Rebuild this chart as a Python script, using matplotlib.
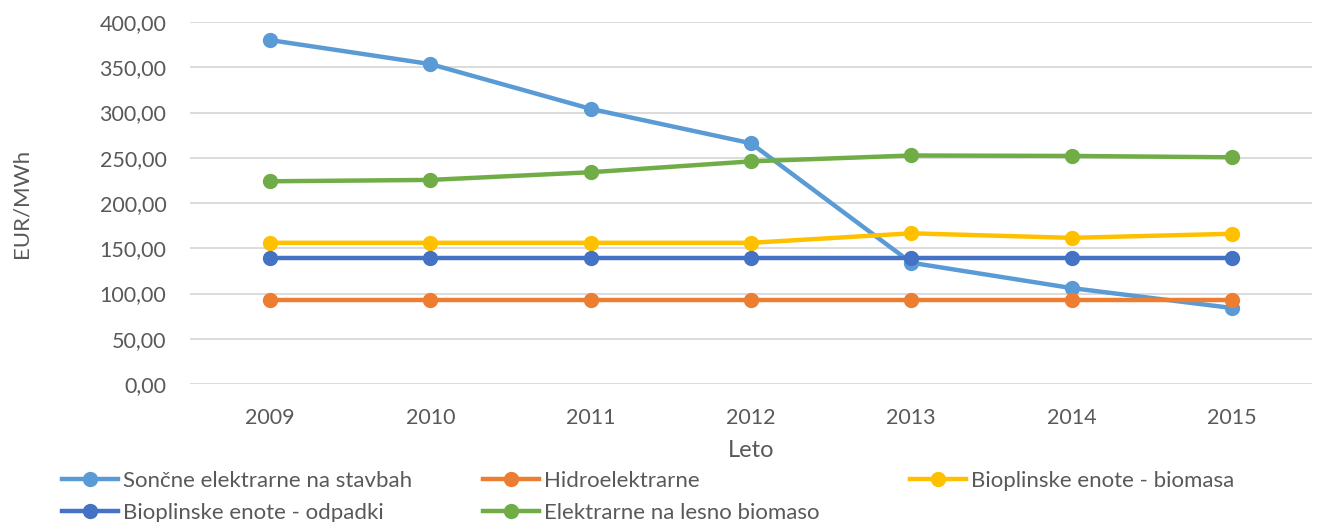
import matplotlib
matplotlib.use("Agg")
import matplotlib.pyplot as plt
from matplotlib.lines import Line2D

# --- Data ---
years = ["2009", "2010", "2011", "2012", "2013", "2014", "2015"]
soncne = [380.0, 353.5, 304.0, 266.0, 134.0, 106.0, 84.0]
hidro = [92.6, 92.6, 92.6, 92.6, 92.6, 92.6, 92.6]
biopl_biomasa = [156.0, 156.0, 156.0, 156.0, 166.5, 161.5, 166.0]
biopl_odpadki = [139.0, 139.0, 139.0, 139.0, 139.0, 139.0, 139.0]
lesna_biomasa = [224.0, 225.5, 234.0, 246.0, 252.5, 252.0, 250.5]

series = [
    ("Sončne elektrarne na stavbah", soncne, "#5B9BD5"),
    ("Hidroelektrarne", hidro, "#ED7D31"),
    ("Bioplinske enote - biomasa", biopl_biomasa, "#FFC000"),
    ("Bioplinske enote - odpadki", biopl_odpadki, "#4472C4"),
    ("Elektrarne na lesno biomaso", lesna_biomasa, "#70AD47"),
]

plt.rcParams["font.family"] = ["Lato", "DejaVu Sans"]
txt = "#595959"

fig = plt.figure(figsize=(13.2, 5.22), dpi=100)
ax = fig.add_axes([190 / 1320, 1 - 384 / 522, 1122 / 1320, 362 / 522])

x = list(range(len(years)))
for i, (name, vals, col) in enumerate(series):
    ax.plot(x, vals, color=col, linewidth=3.2, marker="o", markersize=10,
            solid_capstyle="round", zorder=3 + i, label=name)

ax.set_xlim(-0.5, 6.5)
ax.set_ylim(0, 400)
ax.set_yticks(range(0, 401, 50))
ax.set_yticklabels([f"{v},00" for v in range(0, 401, 50)])
ax.set_xticks(x)
ax.set_xticklabels(years)
ax.tick_params(axis="both", length=0, labelsize=15.5, colors=txt)
ax.tick_params(axis="y", pad=17)
ax.tick_params(axis="x", pad=17)
ax.grid(axis="y", color="#D9D9D9", linewidth=1.3)
for s in ax.spines.values():
    s.set_visible(False)

ax.set_ylabel("EUR/MWh", fontsize=16, color=txt)
ax.yaxis.set_label_coords((31 - 190) / 1122, 0.5)
ax.set_xlabel("Leto", fontsize=17, color=txt)
ax.xaxis.set_label_coords(0.5, (384 - 440) / 362)

# legend: three columns placed like the Excel one
cols = [(62, [0, 3]), (483, [1, 4]), (910, [2])]
for xpos, idx in cols:
    hs = [Line2D([], [], color=series[k][2], linewidth=3.2, marker="o", markersize=10)
          for k in idx]
    lg = fig.legend(hs, [series[k][0] for k in idx], loc="upper left",
                    bbox_to_anchor=(xpos / 1320, 1 - 471 / 522), frameon=False,
                    fontsize=16, handlelength=2.5, handletextpad=0.25,
                    labelspacing=0.55, borderaxespad=0, borderpad=0)
    for t in lg.get_texts():
        t.set_color(txt)

fig.savefig("out.png", dpi=100)
